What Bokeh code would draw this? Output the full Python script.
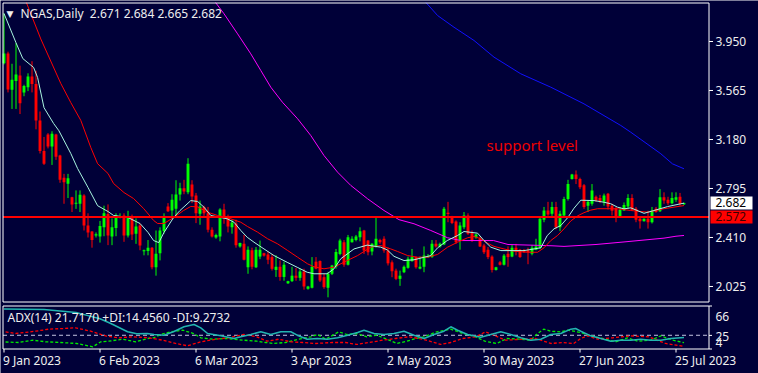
from bokeh.plotting import figure
from bokeh.models import Range1d, ColumnDataSource
from bokeh.core.properties import value
from bokeh.embed import file_html
from bokeh.resources import INLINE

# ---------------- data ----------------
OPEN = [3.78, 3.855, 3.57, 3.64, 3.683, 3.55, 3.59, 3.675, 3.617, 3.33,
        3.09, 3.22, 3.125, 3.22, 3.054, 2.879, 2.832, 2.727, 2.675, 2.675,
        2.74, 2.504, 2.457, 2.425, 2.418, 2.49, 2.595, 2.418, 2.484, 2.572,
        2.583, 2.425, 2.578, 2.44, 2.504, 2.302, 2.303, 2.33, 2.176, 2.287,
        2.46, 2.654, 2.622, 2.636, 2.748, 2.797, 2.766, 2.826, 2.74, 2.596,
        2.65, 2.60, 2.47, 2.41, 2.418, 2.63, 2.575, 2.49, 2.52, 2.34,
        2.36, 2.176, 2.31, 2.176, 2.26, 2.287, 2.277, 2.256, 2.155, 2.18,
        2.10, 2.05, 2.067, 2.11, 2.093, 2.143, 2.007, 2.015, 2.22, 2.225,
        2.098, 2.015, 2.125, 2.18, 2.28, 2.372, 2.196, 2.372, 2.39, 2.412,
        2.465, 2.386, 2.30, 2.34, 2.39, 2.40, 2.307, 2.215, 2.15, 2.085,
        2.137, 2.172, 2.224, 2.256, 2.165, 2.18, 2.255, 2.256, 2.36, 2.34,
        2.355, 2.605, 2.57, 2.536, 2.386, 2.49, 2.583, 2.445, 2.41, 2.40,
        2.347, 2.314, 2.26, 2.155, 2.215, 2.196, 2.283, 2.26, 2.33, 2.314,
        2.31, 2.31, 2.283, 2.314, 2.33, 2.55, 2.622, 2.596, 2.65, 2.49,
        2.583, 2.713, 2.87, 2.905, 2.87, 2.82, 2.66, 2.675, 2.73, 2.72,
        2.69, 2.753, 2.66, 2.64, 2.57, 2.622, 2.654, 2.72, 2.636, 2.557,
        2.538, 2.557, 2.53, 2.636, 2.617, 2.727, 2.706, 2.68, 2.706, 2.73, 2.671]
HIGH = [4.17, 3.87, 3.775, 3.937, 3.76, 3.61, 3.70, 3.795, 3.72, 3.40,
        3.20, 3.23, 3.245, 3.225, 3.06, 2.91, 2.91, 2.73, 2.78, 2.78,
        2.75, 2.60, 2.46, 2.45, 2.54, 2.66, 2.67, 2.56, 2.60, 2.60,
        2.60, 2.62, 2.59, 2.56, 2.52, 2.315, 2.39, 2.335, 2.465, 2.49,
        2.60, 2.68, 2.75, 2.86, 2.84, 2.863, 3.033, 2.86, 2.76, 2.70,
        2.66, 2.65, 2.49, 2.44, 2.64, 2.675, 2.59, 2.55, 2.55, 2.37,
        2.43, 2.34, 2.33, 2.335, 2.386, 2.29, 2.30, 2.28, 2.27, 2.23,
        2.22, 2.07, 2.18, 2.17, 2.165, 2.165, 2.03, 2.256, 2.256, 2.23,
        2.125, 2.14, 2.195, 2.32, 2.40, 2.39, 2.43, 2.42, 2.43, 2.49,
        2.47, 2.39, 2.365, 2.57, 2.40, 2.42, 2.33, 2.23, 2.165, 2.15,
        2.19, 2.26, 2.32, 2.26, 2.26, 2.34, 2.28, 2.39, 2.39, 2.37,
        2.65, 2.69, 2.58, 2.545, 2.53, 2.61, 2.60, 2.465, 2.44, 2.42,
        2.36, 2.335, 2.27, 2.18, 2.225, 2.28, 2.34, 2.35, 2.36, 2.32,
        2.32, 2.33, 2.35, 2.40, 2.57, 2.65, 2.69, 2.69, 2.69, 2.62,
        2.73, 2.863, 2.91, 2.937, 2.88, 2.83, 2.70, 2.83, 2.74, 2.745,
        2.755, 2.76, 2.675, 2.65, 2.65, 2.685, 2.75, 2.75, 2.65, 2.57,
        2.56, 2.62, 2.65, 2.65, 2.79, 2.765, 2.73, 2.765, 2.765, 2.76, 2.684]
LOW = [3.77, 3.55, 3.42, 3.42, 3.38, 3.52, 3.56, 3.55, 3.26, 3.07,
       2.98, 3.11, 2.98, 3.02, 2.84, 2.675, 2.72, 2.61, 2.635, 2.61,
       2.465, 2.41, 2.33, 2.41, 2.37, 2.42, 2.35, 2.35, 2.42, 2.56,
       2.376, 2.41, 2.39, 2.36, 2.31, 2.27, 2.27, 2.16, 2.11, 2.23,
       2.44, 2.61, 2.56, 2.57, 2.70, 2.75, 2.75, 2.68, 2.523, 2.51,
       2.58, 2.45, 2.41, 2.40, 2.38, 2.518, 2.45, 2.44, 2.33, 2.33,
       2.23, 2.125, 2.16, 2.17, 2.24, 2.26, 2.20, 2.15, 2.10, 2.07,
       2.07, 2.045, 2.06, 2.07, 2.07, 2.00, 2.00, 2.01, 2.16, 2.06,
       2.007, 1.94, 2.115, 2.165, 2.27, 2.18, 2.19, 2.37, 2.38, 2.38,
       2.28, 2.27, 2.27, 2.33, 2.36, 2.29, 2.19, 2.098, 2.075, 2.03,
       2.13, 2.165, 2.22, 2.165, 2.16, 2.137, 2.25, 2.25, 2.33, 2.33,
       2.35, 2.53, 2.515, 2.36, 2.314, 2.475, 2.43, 2.375, 2.40, 2.335,
       2.28, 2.24, 2.135, 2.15, 2.19, 2.19, 2.18, 2.255, 2.27, 2.25,
       2.29, 2.20, 2.27, 2.31, 2.32, 2.53, 2.58, 2.58, 2.475, 2.46,
       2.57, 2.70, 2.865, 2.83, 2.79, 2.635, 2.61, 2.66, 2.69, 2.68,
       2.66, 2.63, 2.583, 2.53, 2.565, 2.62, 2.636, 2.62, 2.53, 2.48,
       2.535, 2.48, 2.52, 2.605, 2.61, 2.675, 2.665, 2.67, 2.69, 2.66, 2.665]
CLOSE = [3.855, 3.573, 3.65, 3.69, 3.465, 3.60, 3.675, 3.617, 3.33, 3.09,
         2.99, 3.125, 3.225, 3.045, 2.863, 2.845, 2.876, 2.67, 2.683, 2.745,
         2.504, 2.45, 2.39, 2.435, 2.50, 2.60, 2.425, 2.49, 2.583, 2.578,
         2.425, 2.578, 2.434, 2.497, 2.347, 2.31, 2.33, 2.176, 2.283, 2.465,
         2.575, 2.617, 2.706, 2.748, 2.797, 2.771, 2.99, 2.732, 2.60, 2.654,
         2.60, 2.47, 2.418, 2.43, 2.63, 2.565, 2.496, 2.528, 2.35, 2.366,
         2.236, 2.314, 2.18, 2.314, 2.314, 2.268, 2.235, 2.164, 2.18, 2.10,
         2.196, 2.067, 2.11, 2.093, 2.143, 2.025, 2.025, 2.18, 2.165, 2.072,
         2.02, 2.125, 2.19, 2.296, 2.386, 2.196, 2.412, 2.40, 2.418, 2.46,
         2.307, 2.295, 2.36, 2.40, 2.372, 2.307, 2.207, 2.145, 2.085, 2.11,
         2.18, 2.243, 2.256, 2.176, 2.18, 2.268, 2.262, 2.36, 2.34, 2.36,
         2.636, 2.595, 2.523, 2.372, 2.504, 2.583, 2.44, 2.386, 2.433, 2.34,
         2.295, 2.256, 2.155, 2.176, 2.196, 2.268, 2.256, 2.33, 2.307, 2.256,
         2.295, 2.295, 2.33, 2.34, 2.557, 2.622, 2.59, 2.65, 2.49, 2.596,
         2.713, 2.83, 2.905, 2.87, 2.805, 2.65, 2.69, 2.78, 2.70, 2.69,
         2.74, 2.654, 2.62, 2.565, 2.627, 2.665, 2.72, 2.627, 2.55, 2.538,
         2.557, 2.53, 2.62, 2.61, 2.727, 2.70, 2.68, 2.72, 2.727, 2.675, 2.682]

# moving averages (bar index, price)
FAST_MA_X = [0, 3, 4.7, 7.4, 8.4, 10, 12.4, 13.7, 16.7, 18.4, 21, 23.4, 26, 27.4, 31, 34, 36, 37.4,
             38.7, 40, 42.4, 44, 46.7, 48.4, 50, 51.7, 55.8, 57.5, 59.2, 60.8, 62.5, 65, 67.5,
             70.8, 73.3, 75.8, 77.5, 80.8, 82.5, 84.2, 87.5, 90.8, 94.2, 95.8, 97.5, 100, 102.5,
             106.7, 108.4, 110.8, 113.4, 115, 118.4, 120, 121.7, 124.2, 130, 134.2, 135.8, 137.5,
             139.2, 140.9, 142.5, 144.2, 147.5, 150, 151.7, 153.4, 155, 156.7, 160, 162.5, 165.9,
             169.2, 170]
FAST_MA_Y = [4.17, 3.94, 3.816, 3.746, 3.667, 3.43, 3.306, 3.25, 3.07, 2.952, 2.803, 2.66, 2.614,
             2.583, 2.567, 2.52, 2.45, 2.386, 2.37, 2.45, 2.567, 2.622, 2.70, 2.693, 2.648, 2.583,
             2.557, 2.53, 2.465, 2.412, 2.373, 2.32, 2.268, 2.215, 2.176, 2.137, 2.125, 2.125,
             2.164, 2.243, 2.32, 2.35, 2.334, 2.313, 2.262, 2.229, 2.235, 2.268, 2.329, 2.386,
             2.426, 2.457, 2.444, 2.386, 2.334, 2.307, 2.307, 2.329, 2.425, 2.478, 2.504, 2.565,
             2.64, 2.703, 2.70, 2.687, 2.675, 2.648, 2.635, 2.643, 2.60, 2.622, 2.653, 2.675, 2.68]
SLOW_MA_X = [5.6, 9.2, 14.2, 16.7, 19.2, 21.7, 23.4, 26, 27.4, 30, 32.4, 34.9, 37.4, 38.4, 40,
             42.4, 44.9, 46.7, 48.4, 50.9, 53.4, 55.9, 59.2, 60.9, 63.4, 65.9, 68.4, 70.9, 73.4,
             75.9, 77.5, 80, 82.5, 85.9, 88.4, 91.7, 94.2, 96.7, 98.4, 100.9, 103.4, 105.9, 108.4,
             110.9, 113.4, 115.9, 117.5, 119.2, 120.9, 122.5, 125, 127.5, 130.9, 133.4, 135,
             136.7, 138.4, 140, 141.7, 143.4, 145, 146.7, 148.4, 153.4, 156.7, 160.9, 165, 170]
SLOW_MA_Y = [4.256, 3.97, 3.62, 3.47, 3.33, 3.117, 2.99, 2.913, 2.834, 2.763, 2.716, 2.638, 2.544,
             2.52, 2.52, 2.567, 2.622, 2.654, 2.650, 2.609, 2.583, 2.565, 2.53, 2.496, 2.452,
             2.40, 2.36, 2.308, 2.255, 2.203, 2.18, 2.164, 2.177, 2.23, 2.268, 2.334, 2.347,
             2.32, 2.30, 2.268, 2.255, 2.255, 2.277, 2.334, 2.373, 2.408, 2.418, 2.40, 2.365,
             2.34, 2.32, 2.302, 2.294, 2.294, 2.329, 2.386, 2.426, 2.478, 2.54, 2.58, 2.605,
             2.625, 2.636, 2.636, 2.622, 2.609, 2.636, 2.661]
MAGENTA_MA_X = [52.9, 55, 58.4, 61.7, 64.2, 66.7, 69.6, 73.4, 76.7, 80, 83.4, 86.7, 90.9, 95,
                98.75, 102.5, 106.7, 110.9, 114.2, 122.4, 126, 137, 140, 148, 155, 160, 165,
                168, 170]
MAGENTA_MA_Y = [4.256, 4.168, 4.01, 3.853, 3.722, 3.591, 3.473, 3.343, 3.211, 3.054, 2.923,
                2.819, 2.714, 2.622, 2.55, 2.518, 2.465, 2.408, 2.386, 2.386, 2.355, 2.345,
                2.34, 2.355, 2.375, 2.39, 2.405, 2.42, 2.426]
BLUE_MA_X = [105.5, 108.4, 112.5, 117.5, 122.5, 129.2, 136.7, 145, 154.2, 156.7, 164.2, 167.1, 170]
BLUE_MA_Y = [4.256, 4.154, 4.062, 3.958, 3.827, 3.696, 3.591, 3.46, 3.29, 3.237, 3.068, 2.989,
             2.95]

SUPPORT = 2.572
LAST_PRICE = 2.682
PRICE_TICKS = [2.025, 2.410, 2.795, 3.180, 3.565, 3.950]

ADX_X = [0, 10, 18, 21, 24, 26.7, 30.9, 33.2, 35.8, 37.5, 40, 42.5, 45, 47.5, 49.2, 50.9, 54.2,
         57.5, 59.2, 61.7, 64.2, 66.7, 69.2, 71.7, 73.3, 75.8, 78.3, 80.8, 83.4, 85.9, 88.4, 90,
         92.5, 95, 97.5, 100, 102.5, 105, 107.5, 110, 111.7, 113.4, 115.9, 119.2, 121.7, 124.2,
         126.7, 129.2, 131.7, 134.2, 136.7, 139.2, 141.7, 142.9, 144.2, 146.7, 149.2, 151.7,
         154.2, 156.7, 159.2, 161.7, 164.2, 166.7, 170]
ADX_V = [62.4, 61.7, 57.5, 53, 48.5, 41.8, 30, 27.1, 27.5, 26.1, 25.1, 30.4, 37.1, 40.4, 35.6,
         27.5, 24.2, 20.4, 22.8, 26.1, 30, 26.1, 30, 30, 25.1, 19.4, 20.4, 19.4, 21.4, 25.1, 29,
         32.2, 27.5, 26.1, 27.5, 30.8, 25.1, 20.4, 26.1, 30.8, 37.1, 32.2, 26.1, 22.1, 26.1, 30,
         26.1, 21.4, 18, 19.4, 26.1, 27.5, 33.7, 34.6, 30.8, 24.2, 20.4, 16.6, 18, 18, 19.4, 18,
         18, 20.4, 21.717]
PDI_X = [0.4, 3.7, 7.2, 10.4, 14.2, 18.2, 22.2, 24.2, 26.2, 29.7, 32.9, 35.9, 37.4, 39.2, 41.7,
         44.7, 47.4, 49.2, 52.2, 55.7, 59.9, 63.2, 65.4, 67.4, 70.4, 73.7, 76.7, 78.4, 80.4,
         83.7, 85.7, 88.2, 90.7, 93.2, 95.7, 98.2, 100.4, 102.4, 104.9, 108.2, 111.7, 114.7,
         117.9, 120.2, 123.2, 125.7, 129.2, 131.7, 133.4, 134.9, 136.7, 139.2, 140.9, 144.2,
         146.7, 149.7, 152.9, 155.9, 158.4, 161.7, 164.2, 167.2, 170]
PDI_V = [15.4, 14.7, 18.0, 15.7, 14.7, 13.3, 8.6, 15.7, 16.6, 19.4, 15.7, 20.4, 21.4, 26.1, 29.9,
         32.2, 27.5, 21.4, 19.4, 20.4, 18.0, 16.6, 14.7, 13.3, 14.7, 19.4, 22.8, 26.1, 19.4, 29.9,
         26.1, 27.5, 22.8, 25.1, 19.4, 13.3, 16.1, 19.4, 22.8, 29.9, 33.7, 27.5, 22.8, 16.6, 13.3,
         20.4, 19.4, 18.0, 27.5, 33.7, 30.8, 29.9, 32.2, 29.0, 24.2, 20.4, 15.7, 21.4, 16.6, 18.0,
         24.2, 18.0, 14.456]
MDI_X = [0.4, 2.9, 7.9, 11.2, 14.7, 17.9, 21.7, 25.4, 28.7, 32.4, 36.2, 39.7, 42.9, 45.9, 49.2,
         52.9, 56.2, 59.9, 63.2, 65.7, 68.7, 71.7, 74.7, 77.9, 82.2, 85.4, 88.2, 91.2, 94.7, 97.9,
         101.2, 104.7, 109.2, 111.7, 114.7, 117.9, 120.4, 125.4, 129.7, 132.9, 136.7, 139.7,
         142.4, 144.2, 145.9, 148.4, 152.2, 156.7, 161.2, 165.4, 170]
MDI_V = [29.9, 27.5, 30.8, 33.7, 34.6, 35.6, 30.8, 24.2, 21.4, 22.8, 21.4, 18.0, 13.3, 10.0, 15.7,
         19.4, 21.4, 26.1, 22.8, 16.6, 19.4, 15.7, 14.7, 13.3, 14.7, 14.7, 11.9, 14.7, 18.0, 20.4,
         22.8, 19.4, 11.9, 14.7, 20.4, 22.8, 29.9, 18.0, 19.4, 20.4, 13.3, 14.7, 13.3, 20.4, 24.2,
         19.4, 21.4, 24.2, 22.8, 13.3, 9.27]
ADX_LEVEL = 25
ADX_SCALE = ["66", "25", "4"]

DATE_TICKS = [0, 24, 48, 72, 96, 120, 144, 168]
DATE_LABELS = ["9 Jan 2023", "6 Feb 2023", "6 Mar 2023", "3 Apr 2023", "2 May 2023",
               "30 May 2023", "27 Jun 2023", "25 Jul 2023"]

TITLE = "NGAS,Daily\u00a0 2.671 2.684 2.665 2.682"
ADX_TITLE = "ADX(14) 21.7170 +DI:14.4560 -DI:9.2732"
NOTE = "support level"

# ---------------- styling / geometry ----------------
BG = "#000038"
TXT = "#eeeeee"
FONT = "Noto Sans"
BULL = "#00ff00"
BEAR = "#ff0000"
W, H = 758, 373

PX_PER_BAR = 4.0
XA = -0.375 - 2 / PX_PER_BAR          # bar coordinate at canvas px 0 (bar 0 sits at px 3.5)
PX_PER_PRICE = 127.27
PA = 3.950 + 41 / PX_PER_PRICE          # price at canvas py 0 (3.950 sits at py 41)
ADX_PER_PX = 1.425
AA = 66 + 306 * ADX_PER_PX              # ADX value at canvas py 0 (66 sits at py 306)


def px_x(px):
    return XA + px / PX_PER_BAR


def px_price(py):
    return PA - py / PX_PER_PRICE


def px_adx(py):
    return AA - py * ADX_PER_PX


p = figure(width=W, height=H, x_range=Range1d(px_x(0), px_x(W)),
           y_range=Range1d(px_price(H), px_price(0)),
           output_backend="svg", toolbar_location=None, x_axis_location=None,
           y_axis_location=None, min_border=0, background_fill_color=BG,
           border_fill_color=BG, outline_line_color=None)
p.extra_y_ranges = {"adx": Range1d(px_adx(H), px_adx(0))}
p.grid.visible = False

# ---------------- candles ----------------
idx = list(range(len(OPEN)))
min_body = 1.0 / PX_PER_PRICE
tops, bots, cols = [], [], []
for o, c in zip(OPEN, CLOSE):
    hi, lo = max(o, c), min(o, c)
    if hi - lo < min_body:
        m = (hi + lo) / 2
        hi, lo = m + min_body / 2, m - min_body / 2
    tops.append(hi)
    bots.append(lo)
    cols.append(BULL if c >= o else BEAR)
src = ColumnDataSource(dict(x=idx, h=HIGH, l=LOW, top=tops, bottom=bots, color=cols))
p.segment(x0="x", y0="l", x1="x", y1="h", line_color="color", line_width=1, source=src)
p.vbar(x="x", width=0.72, top="top", bottom="bottom", fill_color="color", line_color=None,
       source=src)

# ---------------- moving averages ----------------
p.line(MAGENTA_MA_X, MAGENTA_MA_Y, color="#ff00ff", line_width=1)
p.line(BLUE_MA_X, BLUE_MA_Y, color="#1010ff", line_width=1)
p.line(SLOW_MA_X, SLOW_MA_Y, color="#ff0000", line_width=1)
p.line(FAST_MA_X, FAST_MA_Y, color="#a8f5e0", line_width=1)

L, R = px_x(2.5), px_x(708.5)

# support level
p.segment(x0=[L], y0=[SUPPORT], x1=[R], y1=[SUPPORT], line_color="#ff0000", line_width=2)

# ---------------- ADX window ----------------
p.segment(x0=[L], y0=[ADX_LEVEL], x1=[R], y1=[ADX_LEVEL], line_color="#c4c4e0",
          line_dash="4 3", line_width=1, y_range_name="adx")
p.line(PDI_X, PDI_V, color="#00ee00", line_width=1.3, line_dash="3 2", y_range_name="adx")
p.line(MDI_X, MDI_V, color="#ff0000", line_width=1.3, line_dash="3 2", y_range_name="adx")
p.line(ADX_X, ADX_V, color="#22b5b0", line_width=1.5, y_range_name="adx")

# ---------------- window borders ----------------
t1, b1 = px_price(2.5), px_price(301.5)
t2, b2 = px_price(305.5), px_price(348.5)
p.segment(x0=[L, R, L, L, L, R, L, L], y0=[t1, t1, t1, b1, t2, t2, t2, b2],
          x1=[L, R, R, R, L, R, R, R], y1=[b1, b1, t1, b1, b2, b2, t2, b2],
          line_color="white", line_width=1)

# ---------------- price scale ----------------
n = len(PRICE_TICKS)
p.segment(x0=[R] * n, y0=PRICE_TICKS, x1=[px_x(712.5)] * n, y1=PRICE_TICKS,
          line_color="white", line_width=1)
p.text(x=[px_x(715)] * n, y=PRICE_TICKS, text=[f"{t:.3f}" for t in PRICE_TICKS],
       text_font=value(FONT), text_font_size="12px", text_color=TXT, text_baseline="middle",
       text_align="left")

box_h = 6.5 / PX_PER_PRICE
p.quad(left=[px_x(710)] * 2, right=[px_x(752)] * 2,
       top=[LAST_PRICE + box_h, SUPPORT + box_h], bottom=[LAST_PRICE - box_h, SUPPORT - box_h],
       fill_color=["#ffffff", "#ff0000"], line_color=None)
p.text(x=[px_x(715)] * 2, y=[LAST_PRICE, SUPPORT],
       text=[f"{LAST_PRICE:.3f}", f"{SUPPORT:.3f}"], text_font=value(FONT),
       text_font_size="12px", text_color=["#000000", "#3a0000"], text_baseline="middle",
       text_align="left")

# ---------------- ADX scale (MT4 places max/min labels inside the window edges) ----------------
adx_label_y = [px_price(315.5), px_price(336), px_price(342)]
p.segment(x0=[R] * 3, y0=[px_price(305.5), px_price(334.9), px_price(348.5)],
          x1=[px_x(711.5)] * 3, y1=[px_price(305.5), px_price(334.9), px_price(348.5)],
          line_color="white", line_width=1)
p.text(x=[px_x(715)] * 3, y=adx_label_y, text=ADX_SCALE, text_font=value(FONT),
       text_font_size="12px", text_color=TXT, text_baseline="middle", text_align="left")

# ---------------- time scale ----------------
m = len(DATE_TICKS)
p.segment(x0=DATE_TICKS, y0=[b2] * m, x1=DATE_TICKS, y1=[px_price(352)] * m,
          line_color="white", line_width=1)
p.text(x=DATE_TICKS, y=[px_price(360)] * m, text=DATE_LABELS, text_font=value(FONT),
       text_font_size="12px", text_color=TXT, text_baseline="middle", text_align="left",
       x_offset=-1)

# ---------------- titles and note ----------------
p.text(x=[px_x(6)], y=[px_price(13)], text=["\u25bc"], text_font=value("DejaVu Sans"),
       text_font_size="9px", text_color=TXT, text_baseline="middle")
p.text(x=[px_x(20)], y=[px_price(13)], text=[TITLE], text_font=value(FONT),
       text_font_size="12px", text_color=TXT, text_baseline="middle")
p.text(x=[px_x(486)], y=[px_price(144)], text=[NOTE], text_font=value(FONT),
       text_font_size="15px", text_color="#ee0000", text_baseline="middle")
p.text(x=[px_x(7)], y=[px_price(317)], text=[ADX_TITLE], text_font=value(FONT),
       text_font_size="12px", text_color=TXT, text_baseline="middle")

open("out.html", "w").write(file_html(p, INLINE))
